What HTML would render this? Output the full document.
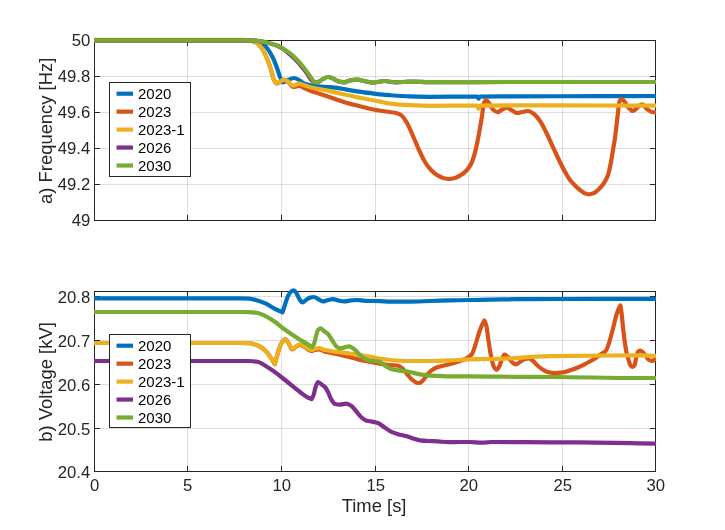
<!DOCTYPE html><html><head><meta charset="utf-8"><title>Frequency and Voltage</title><style>html,body{margin:0;padding:0;background:#fff}svg{display:block}</style></head><body><svg width="725" height="530" viewBox="0 0 725 530" font-family="'Liberation Sans', Arial, sans-serif" font-size="16.7" fill="#262626"><defs><clipPath id="ct"><rect x="94" y="37" width="562" height="185"/></clipPath><clipPath id="cb"><rect x="94" y="288" width="562" height="185"/></clipPath></defs><rect width="725" height="530" fill="#fff"/><line x1="187.50" y1="40.5" x2="187.50" y2="220.5" stroke="#262626" stroke-opacity="0.15"/><line x1="281.50" y1="40.5" x2="281.50" y2="220.5" stroke="#262626" stroke-opacity="0.15"/><line x1="375.50" y1="40.5" x2="375.50" y2="220.5" stroke="#262626" stroke-opacity="0.15"/><line x1="468.50" y1="40.5" x2="468.50" y2="220.5" stroke="#262626" stroke-opacity="0.15"/><line x1="562.50" y1="40.5" x2="562.50" y2="220.5" stroke="#262626" stroke-opacity="0.15"/><line x1="94.5" y1="76.50" x2="655.5" y2="76.50" stroke="#262626" stroke-opacity="0.15"/><line x1="94.5" y1="112.50" x2="655.5" y2="112.50" stroke="#262626" stroke-opacity="0.15"/><line x1="94.5" y1="148.50" x2="655.5" y2="148.50" stroke="#262626" stroke-opacity="0.15"/><line x1="94.5" y1="184.50" x2="655.5" y2="184.50" stroke="#262626" stroke-opacity="0.15"/><rect x="94.5" y="40.5" width="561.0" height="180.0" fill="none" stroke="#262626"/><line x1="187.50" y1="220.5" x2="187.50" y2="214.9" stroke="#262626"/><line x1="187.50" y1="40.5" x2="187.50" y2="46.1" stroke="#262626"/><line x1="281.50" y1="220.5" x2="281.50" y2="214.9" stroke="#262626"/><line x1="281.50" y1="40.5" x2="281.50" y2="46.1" stroke="#262626"/><line x1="375.50" y1="220.5" x2="375.50" y2="214.9" stroke="#262626"/><line x1="375.50" y1="40.5" x2="375.50" y2="46.1" stroke="#262626"/><line x1="468.50" y1="220.5" x2="468.50" y2="214.9" stroke="#262626"/><line x1="468.50" y1="40.5" x2="468.50" y2="46.1" stroke="#262626"/><line x1="562.50" y1="220.5" x2="562.50" y2="214.9" stroke="#262626"/><line x1="562.50" y1="40.5" x2="562.50" y2="46.1" stroke="#262626"/><line x1="94.5" y1="76.50" x2="100.1" y2="76.50" stroke="#262626"/><line x1="655.5" y1="76.50" x2="649.9" y2="76.50" stroke="#262626"/><line x1="94.5" y1="112.50" x2="100.1" y2="112.50" stroke="#262626"/><line x1="655.5" y1="112.50" x2="649.9" y2="112.50" stroke="#262626"/><line x1="94.5" y1="148.50" x2="100.1" y2="148.50" stroke="#262626"/><line x1="655.5" y1="148.50" x2="649.9" y2="148.50" stroke="#262626"/><line x1="94.5" y1="184.50" x2="100.1" y2="184.50" stroke="#262626"/><line x1="655.5" y1="184.50" x2="649.9" y2="184.50" stroke="#262626"/><g clip-path="url(#ct)" fill="none" stroke-width="4.2" stroke-linejoin="round" stroke-linecap="butt"><path d="M94.0,40.3C122.7,40.3 151.3,40.3 180.0,40.3C203.3,40.3 226.7,40.3 250.0,40.3C251.7,40.3 253.3,40.4 255.0,40.6C257.0,40.8 259.0,41.2 261.0,42.0C263.0,42.8 265.0,45.5 267.0,48.0C269.0,50.5 271.0,53.9 273.0,58.0C274.3,60.7 275.7,64.3 277.0,68.0C278.0,70.7 279.0,74.8 280.0,77.0C281.0,79.2 282.0,82.4 283.0,82.4C284.7,82.4 286.3,80.7 288.0,80.0C290.0,79.2 292.0,78.0 294.0,78.0C295.7,78.0 297.3,79.1 299.0,80.0C300.7,80.9 302.3,83.0 304.0,83.6C307.7,84.9 311.3,85.6 315.0,86.0C318.3,86.4 321.7,86.5 325.0,86.8C328.3,87.1 331.7,87.2 335.0,87.6C339.0,88.0 343.0,88.9 347.0,89.6C351.0,90.3 355.0,91.0 359.0,91.6C363.0,92.2 367.0,92.7 371.0,93.2C374.0,93.6 377.0,94.1 380.0,94.4C383.3,94.7 386.7,95.0 390.0,95.2C396.7,95.7 403.3,96.2 410.0,96.4C416.7,96.6 423.3,96.8 430.0,96.8C443.3,96.8 456.7,96.6 470.0,96.6C472.4,96.6 474.8,96.6 477.2,96.6C477.7,96.6 478.1,97.9 478.6,98.6C479.1,97.9 479.5,96.6 480.0,96.6C491.7,96.4 503.3,96.5 515.0,96.4C543.3,96.3 571.7,96.2 600.0,96.1C619.0,96.1 638.0,96.0 657.0,96.0" stroke="#0072BD"/><path d="M94.0,40.3C122.7,40.3 151.3,40.3 180.0,40.3C201.3,40.3 222.7,40.3 244.0,40.3C245.7,40.3 247.3,40.4 249.0,40.6C251.1,40.8 253.2,41.2 255.3,42.0C257.4,42.8 259.5,45.3 261.6,48.0C263.3,50.2 265.1,54.0 266.8,58.0C268.1,61.0 269.5,64.8 270.8,69.0C271.7,71.9 272.7,76.9 273.6,79.0C274.5,81.0 275.4,83.5 276.3,83.5C277.5,83.5 278.8,82.6 280.0,82.0C281.3,81.4 282.7,80.0 284.0,80.0C285.3,80.0 286.7,81.1 288.0,82.0C289.7,83.1 291.3,87.0 293.0,87.0C295.0,87.0 297.0,86.0 299.0,86.0C301.0,86.0 303.0,87.6 305.0,88.4C308.3,89.7 311.7,91.2 315.0,92.4C318.3,93.6 321.7,94.5 325.0,95.6C328.3,96.7 331.7,97.9 335.0,99.0C339.0,100.3 343.0,101.9 347.0,103.0C351.0,104.1 355.0,105.0 359.0,106.0C363.0,107.0 367.0,108.2 371.0,109.0C374.7,109.8 378.3,110.4 382.0,111.0C386.7,111.8 391.3,111.9 396.0,113.0C397.7,113.4 399.3,114.0 401.0,115.0C403.0,116.2 405.0,119.7 407.0,123.0C409.0,126.3 411.0,131.5 413.0,136.0C415.0,140.5 417.0,145.7 419.0,150.0C421.0,154.3 423.0,158.8 425.0,162.0C427.0,165.2 429.0,167.9 431.0,170.0C433.0,172.1 435.0,173.8 437.0,175.0C439.0,176.2 441.0,177.5 443.0,178.0C445.0,178.5 447.0,179.0 449.0,179.0C451.0,179.0 453.0,178.5 455.0,178.0C457.0,177.5 459.0,176.2 461.0,175.0C463.0,173.8 465.0,172.2 467.0,170.0C468.3,168.5 469.7,166.6 471.0,164.0C472.0,162.1 473.0,159.2 474.0,156.0C475.0,152.8 476.0,148.6 477.0,144.0C478.0,139.4 479.0,133.7 480.0,128.0C480.7,124.2 481.3,120.2 482.0,116.0C482.7,111.8 483.3,104.6 484.0,103.0C484.7,101.4 485.3,100.0 486.0,100.0C487.0,100.0 488.0,101.8 489.0,103.0C490.3,104.6 491.7,108.3 493.0,109.5C494.5,110.8 496.0,112.2 497.5,112.2C499.0,112.2 500.5,110.3 502.0,109.6C503.7,108.8 505.3,107.6 507.0,107.6C508.7,107.6 510.3,109.5 512.0,110.4C513.7,111.3 515.3,113.0 517.0,113.0C518.7,113.0 520.3,112.3 522.0,112.0C524.0,111.6 526.0,111.0 528.0,111.0C530.0,111.0 532.0,112.6 534.0,114.0C536.0,115.4 538.0,118.1 540.0,121.0C542.0,123.9 544.0,128.0 546.0,132.0C548.0,136.0 550.0,140.7 552.0,145.0C554.0,149.3 556.0,153.8 558.0,158.0C560.0,162.2 562.0,166.4 564.0,170.0C566.0,173.6 568.0,177.4 570.0,180.0C571.7,182.2 573.3,183.8 575.0,185.5C576.7,187.2 578.3,188.7 580.0,190.0C581.7,191.3 583.3,192.8 585.0,193.4C586.3,193.9 587.7,194.4 589.0,194.4C590.7,194.4 592.3,193.7 594.0,193.0C595.7,192.3 597.3,190.6 599.0,189.0C600.7,187.4 602.3,185.5 604.0,183.0C605.3,181.0 606.7,178.7 608.0,175.0C609.0,172.2 610.0,167.1 611.0,162.0C611.7,158.6 612.3,154.0 613.0,150.0C613.7,146.0 614.3,142.6 615.0,138.0C615.9,132.0 616.7,123.0 617.6,116.0C618.2,111.1 618.8,103.8 619.4,102.0C619.9,100.4 620.5,99.0 621.0,99.0C622.0,99.0 623.0,100.1 624.0,101.0C625.3,102.2 626.7,105.6 628.0,107.0C629.7,108.8 631.3,111.0 633.0,111.0C634.7,111.0 636.3,108.2 638.0,107.0C639.3,106.0 640.7,104.4 642.0,104.4C643.7,104.4 645.3,107.8 647.0,109.0C648.7,110.2 650.3,111.8 652.0,112.0C653.7,112.2 655.3,112.3 657.0,112.4" stroke="#D95319"/><path d="M94.0,39.9C122.7,39.9 151.3,39.9 180.0,39.9C201.3,39.9 222.7,39.9 244.0,39.9C245.7,39.9 247.3,40.2 249.0,40.4C251.1,40.7 253.2,41.2 255.3,42.0C257.4,42.8 259.5,45.3 261.6,48.0C263.3,50.2 265.1,54.0 266.8,58.0C268.1,61.0 269.5,64.8 270.8,69.0C271.7,71.9 272.7,77.1 273.6,79.0C274.5,80.9 275.4,83.0 276.3,83.0C277.5,83.0 278.8,82.1 280.0,81.6C281.3,81.0 282.7,79.6 284.0,79.6C285.3,79.6 286.7,80.8 288.0,81.6C289.7,82.6 291.3,85.6 293.0,85.6C295.0,85.6 297.0,83.6 299.0,83.6C301.0,83.6 303.0,85.0 305.0,85.6C308.3,86.6 311.7,87.7 315.0,88.4C318.3,89.1 321.7,89.4 325.0,90.0C328.3,90.6 331.7,91.6 335.0,92.4C339.0,93.3 343.0,94.1 347.0,95.0C351.0,95.9 355.0,96.8 359.0,97.6C363.0,98.4 367.0,99.2 371.0,100.0C374.0,100.6 377.0,101.0 380.0,101.6C383.3,102.2 386.7,103.2 390.0,103.6C396.7,104.4 403.3,104.9 410.0,105.2C416.7,105.5 423.3,105.8 430.0,105.8C443.3,105.8 456.7,105.6 470.0,105.6C472.4,105.6 474.8,105.6 477.2,105.6C477.7,105.6 478.1,107.6 478.6,108.6C479.1,107.6 479.5,105.6 480.0,105.6C491.7,105.3 503.3,105.3 515.0,105.3C543.3,105.3 571.7,105.4 600.0,105.5C619.0,105.5 638.0,105.6 657.0,105.6" stroke="#EDB120"/><path d="M94.0,40.3C122.7,40.3 151.3,40.3 180.0,40.3C201.3,40.3 222.7,40.3 244.0,40.3C246.2,40.3 248.3,40.4 250.5,40.5C253.3,40.6 256.2,40.9 259.0,41.2C261.8,41.5 264.7,42.1 267.5,42.7C270.3,43.3 273.2,44.2 276.0,45.3C277.8,46.0 279.7,46.8 281.5,47.8C283.9,49.1 286.2,51.4 288.6,53.4C290.9,55.3 293.1,57.1 295.4,59.4C297.6,61.6 299.9,64.2 302.1,67.0C304.1,69.5 306.1,72.3 308.1,75.1C309.3,76.8 310.4,79.4 311.6,80.3C312.9,81.3 314.2,82.4 315.5,82.4C316.7,82.4 317.8,82.0 319.0,81.6C320.3,81.2 321.7,79.7 323.0,79.0C324.7,78.2 326.3,77.0 328.0,77.0C329.7,77.0 331.3,77.8 333.0,78.4C335.0,79.1 337.0,81.1 339.0,81.6C340.7,82.0 342.3,82.4 344.0,82.4C346.0,82.4 348.0,80.7 350.0,80.4C352.3,80.0 354.7,79.6 357.0,79.6C359.7,79.6 362.3,80.7 365.0,81.2C367.7,81.7 370.3,82.6 373.0,82.6C375.3,82.6 377.7,81.9 380.0,81.6C381.3,81.4 382.7,81.0 384.0,81.0C388.0,81.0 392.0,82.4 396.0,82.4C400.7,82.4 405.3,81.6 410.0,81.6C416.7,81.6 423.3,82.2 430.0,82.2C458.3,82.2 486.7,82.0 515.0,82.0C543.3,82.0 571.7,82.0 600.0,82.0C619.0,82.0 638.0,82.0 657.0,82.0" stroke="#7E2F8E"/><path d="M94.0,40.3C122.7,40.3 151.3,40.3 180.0,40.3C201.3,40.3 222.7,40.3 244.0,40.3C246.2,40.3 248.3,40.4 250.5,40.5C253.3,40.6 256.2,40.9 259.0,41.2C261.8,41.5 264.7,42.1 267.5,42.7C270.3,43.3 273.2,44.2 276.0,45.3C277.8,46.0 279.7,46.8 281.5,47.8C284.2,49.2 286.8,50.9 289.5,52.9C291.8,54.6 294.0,56.6 296.3,58.9C298.5,61.1 300.8,63.7 303.0,66.5C305.0,69.0 307.0,71.8 309.0,74.6C310.2,76.3 311.3,78.5 312.5,79.8C313.5,80.9 314.5,82.4 315.5,82.4C316.7,82.4 317.8,82.0 319.0,81.6C320.3,81.2 321.7,79.7 323.0,79.0C324.7,78.2 326.3,77.0 328.0,77.0C329.7,77.0 331.3,77.8 333.0,78.4C335.0,79.1 337.0,81.1 339.0,81.6C340.7,82.0 342.3,82.4 344.0,82.4C346.0,82.4 348.0,80.7 350.0,80.4C352.3,80.0 354.7,79.6 357.0,79.6C359.7,79.6 362.3,80.7 365.0,81.2C367.7,81.7 370.3,82.6 373.0,82.6C375.3,82.6 377.7,81.9 380.0,81.6C381.3,81.4 382.7,81.0 384.0,81.0C388.0,81.0 392.0,82.4 396.0,82.4C400.7,82.4 405.3,81.6 410.0,81.6C416.7,81.6 423.3,82.2 430.0,82.2C458.3,82.2 486.7,82.0 515.0,82.0C543.3,82.0 571.7,82.0 600.0,82.0C619.0,82.0 638.0,82.0 657.0,82.0" stroke="#77AC30"/></g><text x="90.3" y="46.2" text-anchor="end">50</text><text x="90.3" y="82.2" text-anchor="end">49.8</text><text x="90.3" y="118.2" text-anchor="end">49.6</text><text x="90.3" y="154.2" text-anchor="end">49.4</text><text x="90.3" y="190.2" text-anchor="end">49.2</text><text x="90.3" y="226.2" text-anchor="end">49</text><rect x="109.5" y="82.5" width="81" height="94" fill="#fff" stroke="#262626"/><line x1="116.5" y1="93.70" x2="133.0" y2="93.70" stroke="#0072BD" stroke-width="4.2"/><text x="138.0" y="99.00" font-size="15" fill="#000">2020</text><line x1="116.5" y1="111.65" x2="133.0" y2="111.65" stroke="#D95319" stroke-width="4.2"/><text x="138.0" y="116.95" font-size="15" fill="#000">2023</text><line x1="116.5" y1="129.60" x2="133.0" y2="129.60" stroke="#EDB120" stroke-width="4.2"/><text x="138.0" y="134.90" font-size="15" fill="#000">2023-1</text><line x1="116.5" y1="147.55" x2="133.0" y2="147.55" stroke="#7E2F8E" stroke-width="4.2"/><text x="138.0" y="152.85" font-size="15" fill="#000">2026</text><line x1="116.5" y1="165.50" x2="133.0" y2="165.50" stroke="#77AC30" stroke-width="4.2"/><text x="138.0" y="170.80" font-size="15" fill="#000">2030</text><line x1="187.50" y1="291.5" x2="187.50" y2="471.5" stroke="#262626" stroke-opacity="0.15"/><line x1="281.50" y1="291.5" x2="281.50" y2="471.5" stroke="#262626" stroke-opacity="0.15"/><line x1="375.50" y1="291.5" x2="375.50" y2="471.5" stroke="#262626" stroke-opacity="0.15"/><line x1="468.50" y1="291.5" x2="468.50" y2="471.5" stroke="#262626" stroke-opacity="0.15"/><line x1="562.50" y1="291.5" x2="562.50" y2="471.5" stroke="#262626" stroke-opacity="0.15"/><line x1="94.5" y1="428.50" x2="655.5" y2="428.50" stroke="#262626" stroke-opacity="0.15"/><line x1="94.5" y1="384.50" x2="655.5" y2="384.50" stroke="#262626" stroke-opacity="0.15"/><line x1="94.5" y1="340.50" x2="655.5" y2="340.50" stroke="#262626" stroke-opacity="0.15"/><line x1="94.5" y1="296.50" x2="655.5" y2="296.50" stroke="#262626" stroke-opacity="0.15"/><rect x="94.5" y="291.5" width="561.0" height="180.0" fill="none" stroke="#262626"/><line x1="187.50" y1="471.5" x2="187.50" y2="465.9" stroke="#262626"/><line x1="187.50" y1="291.5" x2="187.50" y2="297.1" stroke="#262626"/><line x1="281.50" y1="471.5" x2="281.50" y2="465.9" stroke="#262626"/><line x1="281.50" y1="291.5" x2="281.50" y2="297.1" stroke="#262626"/><line x1="375.50" y1="471.5" x2="375.50" y2="465.9" stroke="#262626"/><line x1="375.50" y1="291.5" x2="375.50" y2="297.1" stroke="#262626"/><line x1="468.50" y1="471.5" x2="468.50" y2="465.9" stroke="#262626"/><line x1="468.50" y1="291.5" x2="468.50" y2="297.1" stroke="#262626"/><line x1="562.50" y1="471.5" x2="562.50" y2="465.9" stroke="#262626"/><line x1="562.50" y1="291.5" x2="562.50" y2="297.1" stroke="#262626"/><line x1="94.5" y1="428.50" x2="100.1" y2="428.50" stroke="#262626"/><line x1="655.5" y1="428.50" x2="649.9" y2="428.50" stroke="#262626"/><line x1="94.5" y1="384.50" x2="100.1" y2="384.50" stroke="#262626"/><line x1="655.5" y1="384.50" x2="649.9" y2="384.50" stroke="#262626"/><line x1="94.5" y1="340.50" x2="100.1" y2="340.50" stroke="#262626"/><line x1="655.5" y1="340.50" x2="649.9" y2="340.50" stroke="#262626"/><line x1="94.5" y1="296.50" x2="100.1" y2="296.50" stroke="#262626"/><line x1="655.5" y1="296.50" x2="649.9" y2="296.50" stroke="#262626"/><g clip-path="url(#cb)" fill="none" stroke-width="4.2" stroke-linejoin="round" stroke-linecap="butt"><path d="M94.0,298.3C122.7,298.3 151.3,298.3 180.0,298.3C200.0,298.3 220.0,298.3 240.0,298.3C243.0,298.3 246.0,298.4 249.0,298.6C251.8,298.8 254.7,299.6 257.5,300.4C260.3,301.2 263.2,302.4 266.0,303.7C268.8,305.0 271.7,307.3 274.5,308.7C277.2,310.1 279.8,311.1 282.5,312.3C283.4,309.5 284.3,306.7 285.2,304.0C286.1,301.2 287.1,297.8 288.0,296.0C289.0,294.1 290.0,292.3 291.0,291.6C291.8,291.0 292.6,290.4 293.4,290.4C294.3,290.4 295.1,291.4 296.0,292.4C297.0,293.5 298.0,297.0 299.0,298.4C300.2,300.1 301.4,302.4 302.6,302.4C303.7,302.4 304.9,300.7 306.0,300.0C307.3,299.1 308.7,297.9 310.0,297.6C311.3,297.3 312.7,297.0 314.0,297.0C315.3,297.0 316.7,298.3 318.0,299.0C319.7,299.8 321.3,301.4 323.0,301.4C324.7,301.4 326.3,300.3 328.0,300.0C329.7,299.7 331.3,299.2 333.0,299.2C334.7,299.2 336.3,300.1 338.0,300.4C340.0,300.8 342.0,301.4 344.0,301.4C346.3,301.4 348.7,300.6 351.0,300.4C353.0,300.2 355.0,300.0 357.0,300.0C359.7,300.0 362.3,300.7 365.0,300.8C370.0,301.0 375.0,301.0 380.0,301.2C383.3,301.3 386.7,301.6 390.0,301.6C396.7,301.6 403.3,301.6 410.0,301.6C416.7,301.6 423.3,301.2 430.0,301.0C436.7,300.8 443.3,300.6 450.0,300.4C456.7,300.2 463.3,300.1 470.0,300.0C476.7,299.9 483.3,299.7 490.0,299.6C498.3,299.5 506.7,299.3 515.0,299.2C528.3,299.1 541.7,299.0 555.0,299.0C589.0,298.9 623.0,298.9 657.0,298.8" stroke="#0072BD"/><path d="M94.0,343.0C122.7,343.0 151.3,343.0 180.0,343.0C200.0,343.0 220.0,343.0 240.0,343.0C243.0,343.0 246.0,343.0 249.0,343.1C251.8,343.2 254.7,344.2 257.5,345.3C260.3,346.4 263.2,348.5 266.0,351.2C267.7,352.8 269.3,355.5 271.0,358.0C272.3,359.9 273.5,362.1 274.8,364.2C275.4,362.1 275.9,360.1 276.5,358.0C277.3,355.0 278.2,351.3 279.0,349.0C280.0,346.2 281.0,343.6 282.0,342.3C283.2,340.8 284.3,339.1 285.5,339.1C286.5,339.1 287.5,341.5 288.5,343.0C289.8,344.9 291.0,349.5 292.3,349.5C293.5,349.5 294.8,347.5 296.0,346.8C297.2,346.1 298.3,345.0 299.5,345.0C301.0,345.0 302.5,345.9 304.0,346.5C306.3,347.5 308.7,351.0 311.0,351.0C312.3,351.0 313.7,350.2 315.0,350.0C316.3,349.8 317.7,349.5 319.0,349.5C321.0,349.5 323.0,351.1 325.0,351.6C328.3,352.5 331.7,352.9 335.0,353.6C339.0,354.5 343.0,355.4 347.0,356.4C351.0,357.4 355.0,358.7 359.0,359.6C363.0,360.5 367.0,361.2 371.0,362.0C374.0,362.6 377.0,363.1 380.0,363.6C383.3,364.1 386.7,364.7 390.0,365.0C392.7,365.3 395.3,365.2 398.0,365.6C399.3,365.8 400.7,366.9 402.0,368.0C403.7,369.3 405.3,372.1 407.0,374.0C408.7,375.9 410.3,378.2 412.0,379.6C413.3,380.7 414.7,382.0 416.0,382.4C417.0,382.7 418.0,383.0 419.0,383.0C420.1,383.0 421.3,381.9 422.4,381.0C423.9,379.8 425.5,376.7 427.0,375.0C428.7,373.1 430.3,371.1 432.0,370.0C434.0,368.7 436.0,367.7 438.0,367.0C440.7,366.1 443.3,365.7 446.0,365.0C448.7,364.3 451.3,363.8 454.0,363.0C456.7,362.2 459.3,361.4 462.0,360.4C464.0,359.6 466.0,358.9 468.0,357.6C469.3,356.8 470.7,355.8 472.0,354.0C473.0,352.6 474.0,348.9 475.0,346.0C476.3,342.1 477.7,336.9 479.0,333.0C480.0,330.1 481.0,327.2 482.0,325.0C482.8,323.2 483.6,322.0 484.4,320.5C485.1,322.3 485.7,323.4 486.4,326.0C487.1,328.6 487.7,335.6 488.4,340.0C489.3,345.7 490.1,352.0 491.0,356.0C492.0,360.6 493.0,365.3 494.0,367.0C494.9,368.5 495.7,370.0 496.6,370.0C497.4,370.0 498.2,368.3 499.0,367.0C500.0,365.3 501.0,361.1 502.0,359.0C502.9,357.2 503.7,354.6 504.6,354.6C505.7,354.6 506.9,356.0 508.0,357.0C509.3,358.2 510.7,360.9 512.0,362.0C513.3,363.1 514.7,364.4 516.0,364.4C517.3,364.4 518.7,362.8 520.0,362.0C521.7,361.0 523.3,359.4 525.0,359.0C526.3,358.7 527.7,358.4 529.0,358.4C530.3,358.4 531.7,360.0 533.0,361.0C534.7,362.3 536.3,364.6 538.0,366.0C540.0,367.7 542.0,369.4 544.0,370.4C545.7,371.3 547.3,372.1 549.0,372.4C551.0,372.7 553.0,373.0 555.0,373.0C557.7,373.0 560.3,372.7 563.0,372.4C565.7,372.1 568.3,370.9 571.0,370.0C573.7,369.1 576.3,368.1 579.0,367.0C581.7,365.9 584.3,364.4 587.0,363.0C589.7,361.6 592.3,360.2 595.0,358.5C597.0,357.2 599.0,355.8 601.0,354.3C602.7,353.1 604.3,352.5 606.0,350.5C606.9,349.4 607.8,346.6 608.7,344.0C610.1,340.0 611.5,334.3 612.9,329.0C614.1,324.6 615.2,318.7 616.4,315.0C617.3,312.0 618.3,309.1 619.2,307.4C619.6,306.6 620.1,306.1 620.5,305.5C620.9,308.7 621.4,311.3 621.8,315.0C622.2,318.4 622.6,323.7 623.0,327.4C623.7,333.5 624.3,339.0 625.0,343.5C625.6,347.3 626.1,351.0 626.7,353.5C627.3,356.3 628.0,358.0 628.6,360.0C629.2,362.0 629.9,364.8 630.5,365.5C631.2,366.3 631.9,367.0 632.6,367.0C633.3,367.0 633.9,366.1 634.6,365.0C635.2,364.1 635.7,359.5 636.3,357.4C636.9,355.3 637.4,352.4 638.0,351.8C638.7,351.1 639.3,350.5 640.0,350.5C641.0,350.5 642.0,351.6 643.0,352.4C644.0,353.2 645.0,354.7 646.0,356.0C646.8,357.1 647.7,359.0 648.5,359.6C649.5,360.3 650.6,361.0 651.6,361.0C652.4,361.0 653.2,360.4 654.0,360.0C655.0,359.5 656.0,358.7 657.0,358.0" stroke="#D95319"/><path d="M94.0,343.0C122.7,343.0 151.3,343.0 180.0,343.0C200.0,343.0 220.0,343.0 240.0,343.0C243.0,343.0 246.0,343.0 249.0,343.1C251.8,343.2 254.7,344.2 257.5,345.3C260.3,346.4 263.2,348.5 266.0,351.2C267.7,352.8 269.3,355.6 271.0,358.0C272.3,359.9 273.5,362.0 274.8,364.0C275.4,362.0 275.9,360.0 276.5,358.0C277.3,355.0 278.2,351.3 279.0,349.0C280.0,346.3 281.0,343.7 282.0,342.5C283.2,341.1 284.3,339.6 285.5,339.6C286.5,339.6 287.5,341.7 288.5,343.0C289.8,344.7 291.0,349.0 292.3,349.0C293.5,349.0 294.8,347.1 296.0,346.3C297.2,345.6 298.3,344.4 299.5,344.4C301.0,344.4 302.5,345.4 304.0,346.0C306.3,347.0 308.7,350.0 311.0,350.0C312.3,350.0 313.7,349.3 315.0,349.0C316.3,348.7 317.7,348.0 319.0,348.0C321.0,348.0 323.0,349.6 325.0,350.0C328.3,350.7 331.7,351.1 335.0,351.6C339.0,352.2 343.0,352.6 347.0,353.2C351.0,353.8 355.0,354.4 359.0,355.0C363.0,355.6 367.0,356.1 371.0,356.8C374.0,357.3 377.0,358.1 380.0,358.6C383.3,359.2 386.7,359.7 390.0,360.0C396.7,360.5 403.3,361.0 410.0,361.0C416.7,361.0 423.3,361.0 430.0,361.0C436.7,361.0 443.3,360.6 450.0,360.4C456.7,360.1 463.3,359.6 470.0,359.4C476.7,359.2 483.3,359.2 490.0,359.0C498.3,358.8 506.7,358.6 515.0,358.2C521.7,357.9 528.3,356.8 535.0,356.6C548.3,356.1 561.7,355.9 575.0,355.8C596.7,355.6 618.3,355.4 640.0,355.4C645.7,355.4 651.3,355.7 657.0,355.9" stroke="#EDB120"/><path d="M94.0,361.0C122.7,361.0 151.3,361.0 180.0,361.0C200.0,361.0 220.0,361.0 240.0,361.0C243.0,361.0 246.0,361.0 249.0,361.0C251.8,361.0 254.7,361.3 257.5,361.8C260.3,362.3 263.2,364.6 266.0,366.2C268.8,367.8 271.7,369.7 274.5,371.7C276.3,373.0 278.2,374.6 280.0,376.0C283.3,378.6 286.7,381.3 290.0,384.0C293.3,386.7 296.7,389.5 300.0,392.0C302.7,394.0 305.3,396.3 308.0,397.6C309.2,398.2 310.4,398.5 311.6,399.0C312.3,397.7 312.9,396.8 313.6,395.0C314.3,393.2 314.9,388.8 315.6,387.0C316.4,384.8 317.2,382.0 318.0,382.0C319.0,382.0 320.0,383.3 321.0,384.0C322.3,384.9 323.7,385.6 325.0,387.0C326.0,388.1 327.0,390.1 328.0,392.0C329.0,393.9 330.0,397.3 331.0,399.0C332.3,401.2 333.7,403.7 335.0,404.0C336.7,404.4 338.3,404.6 340.0,404.6C342.0,404.6 344.0,403.6 346.0,403.6C347.7,403.6 349.3,404.6 351.0,405.6C352.7,406.6 354.3,409.1 356.0,411.0C357.7,412.9 359.3,415.6 361.0,417.0C362.7,418.4 364.3,419.9 366.0,420.4C368.0,421.0 370.0,421.2 372.0,421.6C374.0,422.0 376.0,422.3 378.0,423.0C380.0,423.7 382.0,425.7 384.0,427.0C386.3,428.5 388.7,430.5 391.0,431.6C393.3,432.7 395.7,433.5 398.0,434.2C400.7,435.0 403.3,435.3 406.0,436.0C408.3,436.6 410.7,437.7 413.0,438.4C415.3,439.1 417.7,440.1 420.0,440.4C422.7,440.7 425.3,440.9 428.0,441.0C431.3,441.2 434.7,441.2 438.0,441.4C441.3,441.6 444.7,442.2 448.0,442.2C452.0,442.2 456.0,442.0 460.0,442.0C463.3,442.0 466.7,442.0 470.0,442.0C474.0,442.0 478.0,442.6 482.0,442.6C485.3,442.6 488.7,442.0 492.0,442.0C503.0,442.0 514.0,442.1 525.0,442.2C543.3,442.3 561.7,442.3 580.0,442.4C605.7,442.5 631.3,443.2 657.0,443.6" stroke="#7E2F8E"/><path d="M94.0,312.0C122.7,312.0 151.3,312.0 180.0,312.0C200.0,312.0 220.0,312.0 240.0,312.0C243.0,312.0 246.0,312.0 249.0,312.1C251.8,312.2 254.7,312.5 257.5,313.0C260.3,313.5 263.2,315.0 266.0,316.4C268.8,317.8 271.7,319.6 274.5,321.5C277.3,323.4 280.2,326.2 283.0,328.3C285.8,330.4 288.7,332.3 291.5,334.2C294.3,336.1 297.2,338.0 300.0,339.7C301.7,340.7 303.3,341.6 305.0,342.6C307.3,344.0 309.7,345.5 312.0,347.0C312.7,346.0 313.3,345.5 314.0,344.0C314.7,342.5 315.3,338.3 316.0,336.0C316.7,333.7 317.3,330.7 318.0,330.0C318.9,329.1 319.7,328.4 320.6,328.4C321.7,328.4 322.9,330.1 324.0,331.0C325.3,332.0 326.7,332.7 328.0,334.0C329.3,335.3 330.7,338.0 332.0,340.0C333.3,342.0 334.7,344.9 336.0,346.0C337.3,347.1 338.7,348.4 340.0,348.4C341.3,348.4 342.7,347.9 344.0,347.6C345.7,347.2 347.3,346.4 349.0,346.4C350.7,346.4 352.3,347.9 354.0,349.0C355.7,350.1 357.3,352.4 359.0,354.0C360.7,355.6 362.3,357.5 364.0,358.4C365.7,359.3 367.3,360.1 369.0,360.4C371.0,360.7 373.0,360.7 375.0,361.0C376.7,361.2 378.3,361.5 380.0,362.0C381.3,362.4 382.7,364.1 384.0,365.0C386.0,366.3 388.0,367.7 390.0,368.4C392.7,369.3 395.3,369.9 398.0,370.4C402.0,371.1 406.0,371.3 410.0,372.0C413.3,372.6 416.7,373.9 420.0,374.4C423.3,374.9 426.7,375.4 430.0,375.6C436.7,376.0 443.3,376.4 450.0,376.4C456.7,376.4 463.3,376.4 470.0,376.4C476.7,376.4 483.3,376.5 490.0,376.6C498.3,376.7 506.7,376.7 515.0,376.8C528.3,376.9 541.7,376.9 555.0,377.0C583.3,377.2 611.7,378.0 640.0,378.0C645.7,378.0 651.3,378.0 657.0,378.0" stroke="#77AC30"/></g><text x="90.3" y="477.9" text-anchor="end">20.4</text><text x="90.3" y="434.9" text-anchor="end">20.5</text><text x="90.3" y="390.9" text-anchor="end">20.6</text><text x="90.3" y="346.9" text-anchor="end">20.7</text><text x="90.3" y="302.9" text-anchor="end">20.8</text><rect x="109.5" y="334.5" width="81" height="93" fill="#fff" stroke="#262626"/><line x1="116.5" y1="345.70" x2="133.0" y2="345.70" stroke="#0072BD" stroke-width="4.2"/><text x="138.0" y="351.00" font-size="15" fill="#000">2020</text><line x1="116.5" y1="363.65" x2="133.0" y2="363.65" stroke="#D95319" stroke-width="4.2"/><text x="138.0" y="368.95" font-size="15" fill="#000">2023</text><line x1="116.5" y1="381.60" x2="133.0" y2="381.60" stroke="#EDB120" stroke-width="4.2"/><text x="138.0" y="386.90" font-size="15" fill="#000">2023-1</text><line x1="116.5" y1="399.55" x2="133.0" y2="399.55" stroke="#7E2F8E" stroke-width="4.2"/><text x="138.0" y="404.85" font-size="15" fill="#000">2026</text><line x1="116.5" y1="417.50" x2="133.0" y2="417.50" stroke="#77AC30" stroke-width="4.2"/><text x="138.0" y="422.80" font-size="15" fill="#000">2030</text><text x="94.7" y="491" text-anchor="middle">0</text><text x="187.7" y="491" text-anchor="middle">5</text><text x="281.7" y="491" text-anchor="middle">10</text><text x="375.7" y="491" text-anchor="middle">15</text><text x="468.7" y="491" text-anchor="middle">20</text><text x="562.7" y="491" text-anchor="middle">25</text><text x="655.7" y="491" text-anchor="middle">30</text><text x="374.1" y="512" text-anchor="middle" font-size="18.4">Time [s]</text><text transform="translate(52.3,130.8) rotate(-90)" text-anchor="middle" font-size="18.4">a) Frequency [Hz]</text><text transform="translate(52.3,382) rotate(-90)" text-anchor="middle" font-size="18.4">b) Voltage [kV]</text></svg></body></html>
